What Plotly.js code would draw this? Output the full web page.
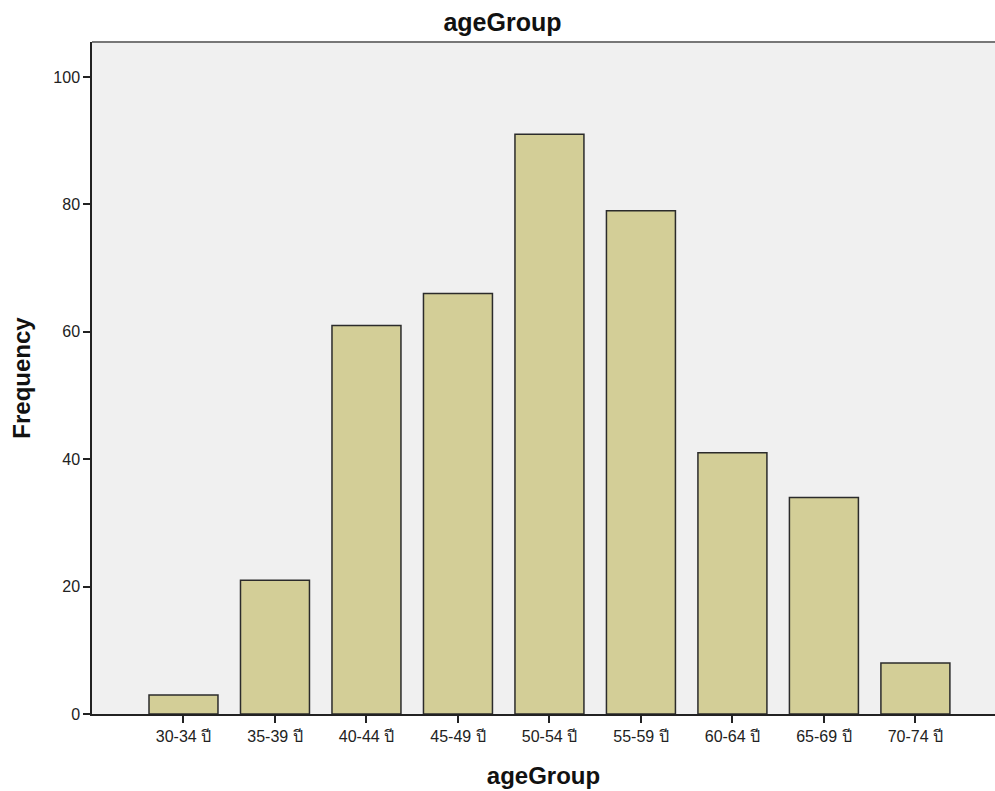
<!DOCTYPE html>
<html>
<head>
<meta charset="utf-8">
<script src="https://cdn.plot.ly/plotly-3.0.1.min.js"></script>
<style>html,body{margin:0;padding:0;background:#fff;}#chart{width:995px;height:791px;}</style>
</head>
<body>
<div id="chart"></div>
<script>
var categories = ["30-34 ปี", "35-39 ปี", "40-44 ปี", "45-49 ปี", "50-54 ปี", "55-59 ปี", "60-64 ปี", "65-69 ปี", "70-74 ปี"];
var frequency = [3, 21, 61, 66, 91, 79, 41, 34, 8];
var yTicks = [0, 20, 40, 60, 80, 100];

var positions = categories.map(function (c, i) { return i; });
var fontFam = "Arial, 'Liberation Sans', 'Noto Sans', 'DejaVu Sans', sans-serif";

var trace = {
  type: "bar",
  x: positions,
  y: frequency,
  marker: { color: "#d3ce97", line: { color: "#2b2b2b", width: 1.5 } },
  hoverinfo: "x+y"
};

var layout = {
  width: 995,
  height: 791,
  paper_bgcolor: "#ffffff",
  plot_bgcolor: "#f0f0f0",
  margin: { l: 92, r: 0, t: 42, b: 77 },
  bargap: 0.246,
  showlegend: false,
  font: { family: fontFam, color: "#222" },
  title: { text: "<b>ageGroup</b>", x: 0.505, xanchor: "center", y: 0.972, yanchor: "middle", font: { size: 25, color: "#111" } },
  xaxis: {
    range: [-1, 8.87],
    tickvals: positions,
    ticktext: categories,
    ticks: "outside",
    ticklen: 7,
    tickwidth: 1.5,
    tickcolor: "#222",
    showline: true,
    linecolor: "#222",
    linewidth: 1.5,
    showgrid: false,
    zeroline: false,
    tickfont: { size: 16, color: "#222" },
    title: { text: "<b>ageGroup</b>", font: { size: 24, color: "#111" }, standoff: 23 }
  },
  yaxis: {
    range: [0, 105.5],
    tickvals: yTicks,
    ticks: "outside",
    ticklen: 7,
    tickwidth: 1.5,
    tickcolor: "#222",
    showline: true,
    linecolor: "#222",
    linewidth: 1.5,
    showgrid: false,
    zeroline: false,
    tickfont: { size: 16, color: "#222" },
    title: { text: "<b>Frequency</b>", font: { size: 24, color: "#111" }, standoff: 16 }
  },
  shapes: [{
    type: "line", xref: "paper", yref: "paper", x0: 0, x1: 1, y0: 1, y1: 1,
    line: { color: "#777", width: 2 }
  }]
};

Plotly.newPlot("chart", [trace], layout, { displayModeBar: false });
</script>
</body>
</html>
